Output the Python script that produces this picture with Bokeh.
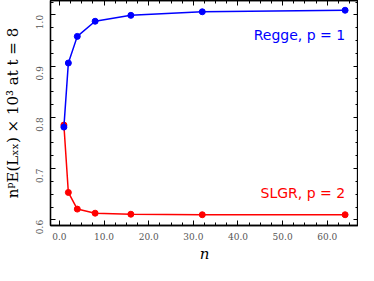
import math
from bokeh.plotting import figure
from bokeh.models import LinearAxis, Range1d, Label, NumeralTickFormatter, SingleIntervalTicker, CustomJSTickFormatter
from bokeh.embed import file_html
from bokeh.resources import INLINE

n_values = [1, 2, 4, 8, 16, 32, 64]
regge = [0.781, 0.906, 0.958, 0.9875, 0.999, 1.006, 1.009]
slgr = [0.785, 0.6535, 0.621, 0.613, 0.611, 0.610, 0.610]
x_label = "n"
y_label = "nᵖE(Lₓₓ) × 10³ at t = 8"
regge_label = "Regge, p = 1"
slgr_label = "SLGR, p = 2"

p = figure(width=358, height=265, output_backend="svg", toolbar_location=None,
           x_range=Range1d(-2.0, 67.0), y_range=Range1d(0.589, 1.028),
           min_border_left=0, min_border_right=0, min_border_top=0, min_border_bottom=0)

p.grid.visible = False
p.outline_line_color = "black"
p.outline_line_width = 1.3
p.background_fill_color = "white"
p.border_fill_color = "white"

xt = SingleIntervalTicker(interval=10, num_minor_ticks=4)
yt = SingleIntervalTicker(interval=0.1, num_minor_ticks=4)

def style(ax, labels=True):
    ax.axis_line_color = "black"
    ax.axis_line_width = 1.3
    ax.major_tick_in = 5
    ax.major_tick_out = 0
    ax.minor_tick_in = 3
    ax.minor_tick_out = 0
    ax.major_tick_line_color = "black"
    ax.minor_tick_line_color = "black"
    ax.major_tick_line_width = 1
    ax.minor_tick_line_width = 1
    if labels:
        ax.major_label_text_font = "DejaVu Serif"
        ax.major_label_text_font_size = "9px"
        ax.major_label_text_color = "#555555"
        ax.axis_label_text_font = "DejaVu Serif"
        ax.axis_label_text_font_style = "italic"
        ax.axis_label_text_font_size = "15px"
        ax.axis_label_text_color = "black"
    else:
        ax.formatter = CustomJSTickFormatter(code="return ''")
        ax.major_label_text_font_size = "1px"
        ax.major_label_standoff = 0
        ax.axis_label_standoff = 0

xa = p.xaxis[0]
xa.ticker = xt
xa.formatter = NumeralTickFormatter(format="0.0")
xa.axis_label = x_label
style(xa)
xa.major_label_standoff = 7
xa.axis_label_standoff = 2

ya = p.yaxis[0]
ya.ticker = yt
ya.formatter = NumeralTickFormatter(format="0.0")
ya.axis_label = y_label
style(ya)
ya.axis_label_text_font_style = "normal"
ya.major_label_orientation = math.pi / 2
ya.major_label_standoff = 11
ya.axis_label_standoff = 8

top = LinearAxis(ticker=SingleIntervalTicker(interval=10, num_minor_ticks=4))
style(top, labels=False)
p.add_layout(top, "above")
right = LinearAxis(ticker=SingleIntervalTicker(interval=0.1, num_minor_ticks=4))
style(right, labels=False)
p.add_layout(right, "right")

p.line(n_values, slgr, line_color="red", line_width=1.5)
p.scatter(n_values, slgr, size=6, fill_color="red", line_color="red")
p.line(n_values, regge, line_color="blue", line_width=1.5)
p.scatter(n_values, regge, size=6, fill_color="blue", line_color="blue")

p.add_layout(Label(x=64.0, y=0.960, text=regge_label, text_color="blue",
                   text_font="DejaVu Sans", text_font_size="14px",
                   text_align="right", text_baseline="middle"))
p.add_layout(Label(x=64.0, y=0.652, text=slgr_label, text_color="red",
                   text_font="DejaVu Sans", text_font_size="14px",
                   text_align="right", text_baseline="middle"))

open("out.html", "w").write(file_html(p, INLINE))
